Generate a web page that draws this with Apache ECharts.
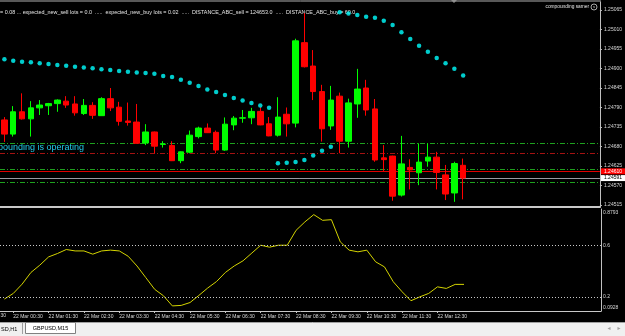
<!DOCTYPE html>
<html>
<head>
<meta charset="utf-8">
<script src="https://cdn.jsdelivr.net/npm/echarts@6/dist/echarts.min.js"></script>
<style>html,body{margin:0;padding:0;background:#000;}#c{width:625px;height:336px;}</style>
</head>
<body>
<div id="c"></div>
<script>
// ---- data ----
const times = [
 '22 Mar 00:15','22 Mar 00:30','22 Mar 00:45',
 '22 Mar 01:00','22 Mar 01:15','22 Mar 01:30','22 Mar 01:45',
 '22 Mar 02:00','22 Mar 02:15','22 Mar 02:30','22 Mar 02:45',
 '22 Mar 03:00','22 Mar 03:15','22 Mar 03:30','22 Mar 03:45',
 '22 Mar 04:00','22 Mar 04:15','22 Mar 04:30','22 Mar 04:45',
 '22 Mar 05:00','22 Mar 05:15','22 Mar 05:30','22 Mar 05:45',
 '22 Mar 06:00','22 Mar 06:15','22 Mar 06:30','22 Mar 06:45',
 '22 Mar 07:00','22 Mar 07:15','22 Mar 07:30','22 Mar 07:45',
 '22 Mar 08:00','22 Mar 08:15','22 Mar 08:30','22 Mar 08:45',
 '22 Mar 09:00','22 Mar 09:15','22 Mar 09:30','22 Mar 09:45',
 '22 Mar 10:00','22 Mar 10:15','22 Mar 10:30','22 Mar 10:45',
 '22 Mar 11:00','22 Mar 11:15','22 Mar 11:30','22 Mar 11:45',
 '22 Mar 12:00','22 Mar 12:15','22 Mar 12:30','22 Mar 12:45',
 '22 Mar 13:00','22 Mar 13:15'
];
const prevLabel = '21 Mar 23:30'; // label of the hour tick just left of the visible area
const open = [1.24755,1.24715,1.24778,1.24758,1.24789,1.24795,1.24801,1.24808,1.24800,1.24773,
 1.24796,1.24767,1.24815,1.24791,1.24752,1.24749,1.24690,1.24721,1.24686,1.24683,
 1.24640,1.24664,1.24708,1.24732,1.24720,1.24670,1.24741,1.24760,1.24761,1.24779,
 1.24744,1.24712,1.24771,1.24746,1.24973,1.24907,1.24835,1.24738,1.24822,1.24695,
 1.24800,1.24845,1.24786,1.24648,1.24653,1.24543,1.24621,1.24606,1.24639,1.24650,
 1.24600,1.24549,1.24627];
const close = [1.24715,1.24778,1.24758,1.24789,1.24797,1.24801,1.24811,1.24797,1.24775,1.24796,
 1.24768,1.24815,1.24789,1.24751,1.24748,1.24689,1.24721,1.24681,1.24687,1.24640,
 1.24665,1.24712,1.24732,1.24719,1.24670,1.24743,1.24760,1.24761,1.24779,1.24741,
 1.24710,1.24763,1.24744,1.24978,1.24905,1.24835,1.24730,1.24811,1.24695,1.24803,
 1.24842,1.24783,1.24642,1.24643,1.24540,1.24631,1.24614,1.24636,1.24650,1.24607,
 1.24546,1.24632,1.24591];
const high = [1.24763,1.24794,1.24830,1.24808,1.24811,1.24803,1.24813,1.24822,1.24822,1.24814,
 1.24805,1.24819,1.24845,1.24806,1.24804,1.24800,1.24743,1.24722,1.24695,1.24695,
 1.24666,1.24725,1.24736,1.24745,1.24725,1.24762,1.24766,1.24783,1.24789,1.24791,
 1.24763,1.24819,1.24790,1.24984,1.25056,1.24952,1.24854,1.24851,1.24832,1.24815,
 1.24899,1.24868,1.24814,1.24684,1.24654,1.24710,1.24644,1.24689,1.24689,1.24665,
 1.24628,1.24637,1.24646];
const low = [1.24693,1.24708,1.24756,1.24708,1.24769,1.24769,1.24778,1.24789,1.24767,1.24769,
 1.24758,1.24766,1.24780,1.24739,1.24739,1.24688,1.24684,1.24661,1.24677,1.24639,
 1.24633,1.24661,1.24703,1.24718,1.24661,1.24668,1.24726,1.24747,1.24743,1.24740,
 1.24709,1.24708,1.24708,1.24734,1.24903,1.24811,1.24694,1.24727,1.24661,1.24677,
 1.24761,1.24767,1.24637,1.24611,1.24527,1.24539,1.24559,1.24571,1.24623,1.24559,
 1.24529,1.24524,1.24531];
const sar = [1.24926,1.24922,1.24919,1.24918,1.24915,1.24913,1.24910,1.24908,1.24905,1.24903,
 1.24901,1.24898,1.24896,1.24893,1.24891,1.24889,1.24887,1.24885,1.24879,1.24876,
 1.24868,1.24860,1.24851,1.24841,1.24834,1.24825,1.24817,1.24810,1.24803,1.24796,
 1.24789,1.24633,1.24634,1.24636,1.24642,1.24655,1.24668,1.24679,1.25059,1.25055,
 1.25051,1.25046,1.25043,1.25035,1.25023,1.25002,1.24983,1.24964,1.24947,1.24930,
 1.24915,1.24899,1.24880];
const osc = [0.185,0.228,0.300,0.390,0.446,0.510,0.536,0.567,0.556,0.556,
 0.531,0.556,0.562,0.556,0.515,0.440,0.350,0.260,0.210,0.132,
 0.136,0.158,0.213,0.270,0.320,0.390,0.440,0.480,0.540,0.600,
 0.585,0.600,0.600,0.715,0.780,0.836,0.792,0.797,0.626,0.562,
 0.549,0.562,0.472,0.433,0.318,0.241,0.172,0.202,0.228,0.279,
 0.267,0.298,0.298];
const priceTicks = [1.24515,1.24570,1.24625,1.24680,1.24735,1.24790,1.24845,1.24900,1.24955,1.25010,1.25065];
const priceMin = 1.245094, priceMax = 1.250876;
const oscTicks = [0.0928,0.2,0.6,0.8793];
const oscMin = 0.0928, oscMax = 0.8793;
const oscLevels = [0.6, 0.2];
const levels = [1.24690, 1.24662, 1.24617, 1.24610, 1.24591, 1.24580];
const askPrice = 1.24610, bidPrice = 1.24591;
const infoText = '= 0.08 ... expected_new_sell lots = 0.0  .....  expected_new_buy lots = 0.02  .....  DISTANCE_ABC_sell = 124653.0  .....  DISTANCE_ABC_buy = 60.0';

// ---- build ----
const NCAT = 68;
const cats = times.slice();
for (let i = cats.length; i < NCAT; i++) cats.push('pad' + i);
const candleData = cats.map((c, i) => i < open.length ? [open[i], close[i], low[i], high[i]] : '-');
const sarData = cats.map((c, i) => i < sar.length ? sar[i] : '-');
const oscData = cats.map((c, i) => i < osc.length ? osc[i] : '-');

const FF = '"Liberation Sans", Arial, sans-serif';
const showLbl = (idx, val) => typeof val === 'string' && val.endsWith(':30') && !val.startsWith('pad');
const dashDot = [5, 2, 1, 2];
const lvlStyles = [
  {color:'#1fa01f', type:dashDot},
  {color:'#a51212', type:dashDot},
  {color:'#1fa01f', type:dashDot},
  {color:'#e00000', type:'solid'},
  {color:'#9a9aa2', type:'solid'},
  {color:'#1fa01f', type:dashDot}
];
const mlData = levels.map((v, i) => {
  const d = {yAxis: v, lineStyle: Object.assign({width:1}, lvlStyles[i]), label:{show:false}};
  if (v === askPrice) d.label = {show:true, position:'end', distance:1, formatter: askPrice.toFixed(5), color:'#fff', backgroundColor:'#ff0000', padding:[0.5,5,0.5,3], fontSize:5, fontFamily:FF};
  if (v === bidPrice) d.label = {show:true, position:'end', distance:1, formatter: bidPrice.toFixed(5), color:'#000', backgroundColor:'#ffffff', padding:[0.5,5,0.5,3], fontSize:5, fontFamily:FF};
  return d;
});

const gl = 0, gr = 24;
const option = {
  backgroundColor: '#000',
  animation: false,
  grid: [
    {left: gl, right: gr, top: 2, height: 205},
    {left: gl, right: gr, top: 209, height: 102}
  ],
  xAxis: [
    {type:'category', gridIndex:0, data:cats, boundaryGap:true,
     axisLine:{show:true, lineStyle:{color:'#c8c8c8', width:2}}, axisTick:{show:false}, axisLabel:{show:false}, splitLine:{show:false}},
    {type:'category', gridIndex:1, data:cats, boundaryGap:true,
     axisLine:{show:true, lineStyle:{color:'#c8c8c8', width:1}},
     axisTick:{show:true, alignWithLabel:true, interval:showLbl, length:2, lineStyle:{color:'#c8c8c8'}},
     axisLabel:{interval:showLbl, align:'left', fontSize:5, color:'#d8d8d8', margin:3, fontFamily:FF}, splitLine:{show:false}}
  ],
  yAxis: [
    {type:'value', gridIndex:0, position:'right', min:priceMin, max:priceMax, scale:true,
     axisLine:{show:true, lineStyle:{color:'#c0c0c0'}},
     axisTick:{show:true, length:2, customValues:priceTicks, lineStyle:{color:'#c0c0c0'}},
     axisLabel:{customValues:priceTicks, formatter:v => v.toFixed(5), fontSize:5, color:'#d8d8d8', margin:4, fontFamily:FF},
     splitLine:{show:false}},
    {type:'value', gridIndex:1, position:'right', min:oscMin, max:oscMax,
     axisLine:{show:true, lineStyle:{color:'#c0c0c0'}},
     axisTick:{show:false, customValues:oscTicks},
     axisLabel:{customValues:oscTicks, margin:2, fontSize:5, color:'#d8d8d8', fontFamily:FF,
       formatter: v => Math.abs(v - oscMax) < 1e-9 ? '{t|' + v + '}' : (Math.abs(v - oscMin) < 1e-9 ? '{b|' + v + '}' : String(v)),
       rich:{t:{padding:[7,0,0,0], fontSize:5, color:'#d8d8d8', fontFamily:FF}, b:{padding:[0,0,7,0], fontSize:5, color:'#d8d8d8', fontFamily:FF}}},
     splitLine:{show:false}}
  ],
  series: [
    {type:'candlestick', xAxisIndex:0, yAxisIndex:0, data:candleData, barWidth:6, z:3,
     itemStyle:{color:'#00ff00', color0:'#ff0000', borderColor:'#00ff00', borderColor0:'#ff0000', borderWidth:1}},
    {type:'scatter', xAxisIndex:0, yAxisIndex:0, data:sarData, symbol:'circle', symbolSize:4.5, z:4,
     itemStyle:{color:'#00ffff'},
     markLine:{silent:true, symbol:['none','none'], animation:false, precision:5, z:2, data:mlData}},
    {type:'line', xAxisIndex:1, yAxisIndex:1, data:oscData, symbol:'none', lineStyle:{color:'#d4d400', width:1},
     markLine:{silent:true, symbol:['none','none'], precision:4, label:{show:false},
       lineStyle:{color:'#c8c8c8', type:[1,2], width:1},
       data: oscLevels.map(v => ({yAxis:v}))}}
  ],
  graphic: [
    {type:'line', shape:{x1:0, y1:1, x2:601, y2:1}, style:{stroke:'#b0b0b0', lineWidth:1}},
    {type:'polygon', shape:{points:[[451,0],[457,0],[454,3]]}, style:{fill:'#909090'}},
    {type:'text', x:0, y:13, style:{text:infoText, fill:'#e4e4e4', fontSize:5.4, fontFamily:FF, verticalAlign:'middle', align:'left'}},
    {type:'text', x:589, y:7, style:{text:'compounding samer', fill:'#e4e4e4', fontSize:4.8, fontFamily:FF, verticalAlign:'middle', align:'right'}},
    {type:'circle', shape:{cx:594, cy:7, r:3}, style:{fill:'none', stroke:'#d0d0d0', lineWidth:0.8}},
    {type:'text', x:594, y:7, style:{text:'s', fill:'#d0d0d0', fontSize:4, fontFamily:FF, verticalAlign:'middle', align:'center'}},
    {type:'text', x:84, y:147.5, style:{text:'Compounding is operating', fill:'#22c8e8', fontSize:9, fontFamily:FF, verticalAlign:'middle', align:'right'}},
    {type:'text', x:6, y:316, style:{text:prevLabel, fill:'#d8d8d8', fontSize:5, fontFamily:FF, verticalAlign:'middle', align:'right'}},
    {type:'rect', shape:{x:0, y:322, width:625, height:14}, style:{fill:'#f0f0f0'}},
    {type:'line', shape:{x1:0, y1:322.5, x2:625, y2:322.5}, style:{stroke:'#a0a0a0', lineWidth:1}},
    {type:'text', x:1, y:329, style:{text:'SD,H1', fill:'#000', fontSize:5.5, fontFamily:FF, verticalAlign:'middle'}},
    {type:'line', shape:{x1:22.5, y1:323, x2:22.5, y2:334}, style:{stroke:'#a0a0a0', lineWidth:1}},
    {type:'rect', shape:{x:25.5, y:322.5, width:50, height:11}, style:{fill:'#ffffff', stroke:'#808080', lineWidth:1}},
    {type:'text', x:50.5, y:328.5, style:{text:'GBPUSD,M15', fill:'#000', fontSize:5.5, fontFamily:FF, verticalAlign:'middle', align:'center'}},
    {type:'text', x:609, y:328, style:{text:'◂', fill:'#a0a0a0', fontSize:6, fontFamily:'DejaVu Sans', verticalAlign:'middle', align:'center'}},
    {type:'text', x:619, y:328, style:{text:'▸', fill:'#a0a0a0', fontSize:6, fontFamily:'DejaVu Sans', verticalAlign:'middle', align:'center'}}
  ]
};
const chart = echarts.init(document.getElementById('c'), null, {renderer:'canvas'});
chart.setOption(option);
</script>
</body>
</html>
